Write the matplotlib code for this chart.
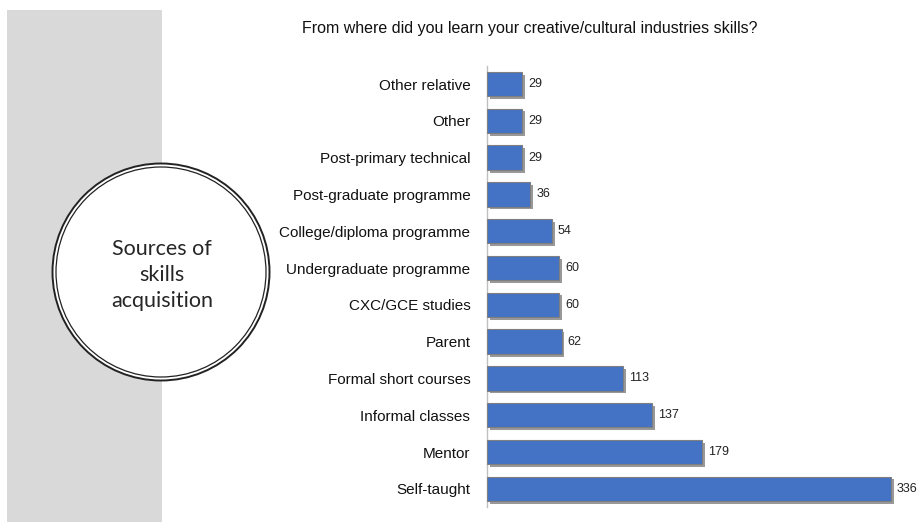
"""Horizontal bar chart: sources of creative/cultural industries skills."""

import matplotlib.pyplot as plt
import matplotlib.patheffects as pe
from matplotlib.patches import Circle, Rectangle

CATEGORIES = [
    "Other relative",
    "Other",
    "Post-primary technical",
    "Post-graduate programme",
    "College/diploma programme",
    "Undergraduate programme",
    "CXC/GCE studies",
    "Parent",
    "Formal short courses",
    "Informal classes",
    "Mentor",
    "Self-taught",
]
COUNTS = [29, 29, 29, 36, 54, 60, 60, 62, 113, 137, 179, 336]

TITLE = "From where did you learn your creative/cultural industries skills?"
BADGE_TEXT = "Sources of\nskills\nacquisition"

W, H = 920, 531
BAR_COLOR = "#4472C4"


def main() -> None:
    fig = plt.figure(figsize=(W / 100, H / 100), dpi=100)

    # pixel-space backdrop for the side panel and the round badge
    bg = fig.add_axes([0, 0, 1, 1])
    bg.set_xlim(0, W)
    bg.set_ylim(H, 0)
    bg.axis("off")
    bg.add_patch(Rectangle((7, 10), 155, 512, facecolor="#D9D9D9", edgecolor="none"))
    bg.add_patch(Circle((161, 272), 108.5, facecolor="white", edgecolor="#222222", lw=1.4))
    bg.add_patch(Circle((161, 272), 105, facecolor="none", edgecolor="#222222", lw=0.9))
    bg.text(162, 275, BADGE_TEXT, ha="center", va="center", fontsize=15.5,
            family="Lato", color="#262626", linespacing=1.38)
    bg.text(530, 28, TITLE, ha="center", va="center", fontsize=11.5,
            family="Liberation Sans", color="#111111")

    # bar chart area: axis line at x=487, 1.203 px per count
    px_per_unit = 404 / 336
    xmax = 360
    left, top = 487, 65.6
    height = 12 * 36.8
    ax = fig.add_axes([left / W, (H - top - height) / H,
                       xmax * px_per_unit / W, height / H])
    ax.set_xlim(0, xmax)
    ax.set_ylim(len(CATEGORIES) - 0.5, -0.5)
    ax.patch.set_alpha(0)

    ys = list(range(len(CATEGORIES)))
    bars = ax.barh(ys, COUNTS, height=0.66, color=BAR_COLOR,
                   edgecolor="#7f7f7f", linewidth=0.8, zorder=3)
    for b in bars:
        b.set_path_effects([pe.SimplePatchShadow(offset=(2, -2), shadow_rgbFace="#555555",
                                                 alpha=0.6), pe.Normal()])
    for y, v in zip(ys, COUNTS):
        ax.text(v + 6 / px_per_unit, y, str(v), va="center", ha="left",
                fontsize=9, family="Liberation Sans", color="#222222")

    ax.set_yticks(ys)
    ax.set_yticklabels(CATEGORIES, fontsize=11, family="Liberation Sans", color="#111111")
    ax.tick_params(axis="y", length=0, pad=12)
    ax.set_xticks([])
    for side in ("top", "right", "bottom"):
        ax.spines[side].set_visible(False)
    ax.spines["left"].set_color("#BFBFBF")
    ax.spines["left"].set_linewidth(1)

    fig.savefig("out.png", dpi=100)
    plt.close(fig)


if __name__ == "__main__":
    main()
